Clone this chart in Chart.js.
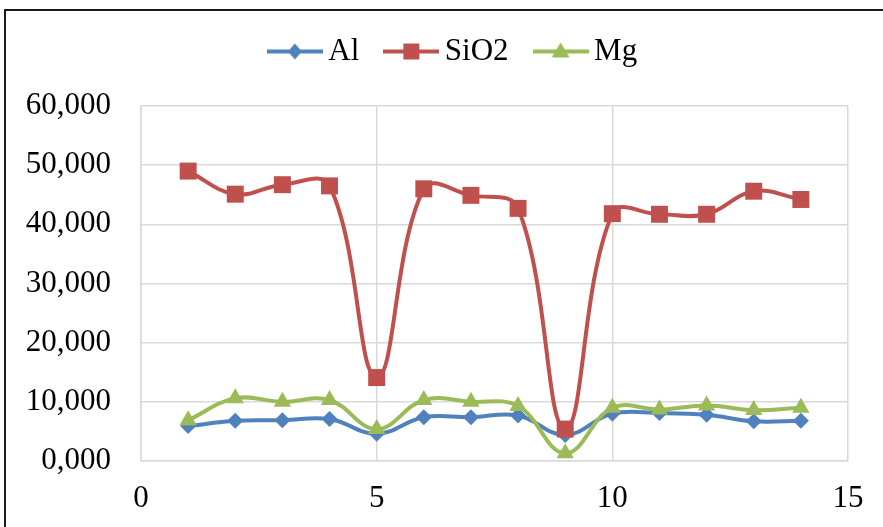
<!DOCTYPE html>
<html>
<head>
<meta charset="utf-8">
<script src="https://cdn.jsdelivr.net/npm/chart.js@4.4.1/dist/chart.umd.min.js"></script>
<style>
  html, body { margin: 0; padding: 0; background: #fff; overflow: hidden; }
  /* 外框（右侧和底部被裁掉） */
  #frame { position: absolute; left: 4px; top: 9px; width: 920px; height: 560px; border: 2px solid #1a1a1a; box-sizing: border-box; }
  #wrap { position: absolute; left: 0; top: 0; width: 883px; height: 527px; }
</style>
</head>
<body>
<div id="frame"></div>
<div id="wrap"><canvas id="chart"></canvas></div>
<script>
// 数据（百分比，逗号为小数点）
const xValues = [1, 2, 3, 4, 5, 6, 7, 8, 9, 10, 11, 12, 13, 14];
const alValues = [5.9, 6.8, 6.9, 7.1, 4.6, 7.4, 7.4, 7.7, 4.4, 8.0, 8.1, 7.8, 6.7, 6.8];
const sio2Values = [49.0, 45.1, 46.7, 46.5, 14.1, 46.0, 44.9, 42.7, 5.4, 41.8, 41.7, 41.7, 45.6, 44.2];
const mgValues = [6.9, 10.6, 10.0, 10.3, 5.4, 10.3, 10.0, 9.3, 1.3, 9.0, 8.7, 9.4, 8.6, 9.0];
const seriesNames = ['Al', 'SiO2', 'Mg'];
const yTickLabels = ['0,000', '10,000', '20,000', '30,000', '40,000', '50,000', '60,000'];
const xTickLabels = ['0', '5', '10', '15'];

const FONT = "'Liberation Serif', 'Times New Roman', serif";
const colors = ['#4F81BD', '#C0504D', '#9BBB59'];
const styles = ['rectRot', 'rect', 'triangle'];
const radii = [8, 12, 10];

function toPoints(ys) {
    return ys.map((y, i) => ({ x: xValues[i], y: y }));
}

// 图例图标：线段 + 标记
function legendIcon(color, style) {
    const c = document.createElement('canvas');
    c.width = 56; c.height = 24;
    const g = c.getContext('2d');
    g.strokeStyle = color;
    g.fillStyle = color;
    g.lineWidth = 4;
    g.beginPath(); g.moveTo(0, 12); g.lineTo(56, 12); g.stroke();
    g.beginPath();
    if (style === 'rectRot') {
        g.moveTo(28, 4); g.lineTo(35, 12); g.lineTo(28, 20); g.lineTo(21, 12);
    } else if (style === 'rect') {
        g.rect(20, 4, 16, 16);
    } else {
        g.moveTo(28, 3); g.lineTo(37, 18); g.lineTo(19, 18);
    }
    g.closePath();
    g.fill();
    return c;
}
const icons = styles.map((s, i) => legendIcon(colors[i], s));

// 图例与绘图区之间留出空隙，并整体右移一点
const legendGap = {
    id: 'legendGap',
    beforeInit(chart) {
        const legend = chart.legend;
        const origFit = legend.fit;
        legend.fit = function () {
            origFit.call(this);
            this.height += 29;
        };
        const origDraw = legend.draw;
        legend.draw = function () {
            const ctx = this.ctx;
            ctx.save();
            ctx.translate(20, 0);
            origDraw.apply(this, arguments);
            ctx.restore();
        };
    }
};

const allValues = [alValues, sio2Values, mgValues];
const datasets = allValues.map((vals, i) => ({
    label: seriesNames[i],
    data: toPoints(vals),
    borderColor: colors[i],
    backgroundColor: colors[i],
    borderWidth: 4,
    tension: 0.4,
    pointStyle: styles[i],
    pointRadius: radii[i],
    pointBorderWidth: 0,
    pointBackgroundColor: colors[i],
    order: 3 - i  // Mg 在最上层
}));

const gridColor = '#d9d9d9';

new Chart(document.getElementById('chart'), {
    type: 'line',
    data: { datasets: datasets },
    plugins: [legendGap],
    options: {
        responsive: true,
        maintainAspectRatio: false,
        animation: false,
        devicePixelRatio: 1,
        layout: { padding: { left: 26, right: 35, top: 2, bottom: 0 } },
        plugins: {
            tooltip: { enabled: false },
            legend: {
                position: 'top',
                labels: {
                    usePointStyle: true,
                    pointStyleWidth: 36,
                    padding: 34,
                    color: '#000',
                    font: { family: FONT, size: 31 },
                    generateLabels: chart => chart.data.datasets.map((ds, i) => ({
                        text: ds.label,
                        pointStyle: icons[i],
                        fillStyle: colors[i],
                        strokeStyle: colors[i],
                        lineWidth: 0,
                        hidden: false,
                        datasetIndex: i
                    }))
                }
            }
        },
        scales: {
            x: {
                type: 'linear',
                min: 0, max: 15,
                afterFit: s => { s.height = 66; },
                ticks: {
                    stepSize: 5,
                    padding: 19,
                    color: '#000',
                    font: { family: FONT, size: 31 },
                    maxRotation: 0,
                    callback: (v, idx) => xTickLabels[idx]
                },
                grid: { color: gridColor, lineWidth: 1.5, drawTicks: false },
                border: { color: gridColor, width: 1.5 }
            },
            y: {
                min: 0, max: 60,
                afterFit: s => { s.width = 115; },
                ticks: {
                    stepSize: 10,
                    padding: 30,
                    color: '#000',
                    font: { family: FONT, size: 31 },
                    callback: (v, idx) => yTickLabels[idx]
                },
                grid: { color: gridColor, lineWidth: 1.5, drawTicks: false },
                border: { color: gridColor, width: 1.5 }
            }
        }
    }
});
</script>
</body>
</html>
